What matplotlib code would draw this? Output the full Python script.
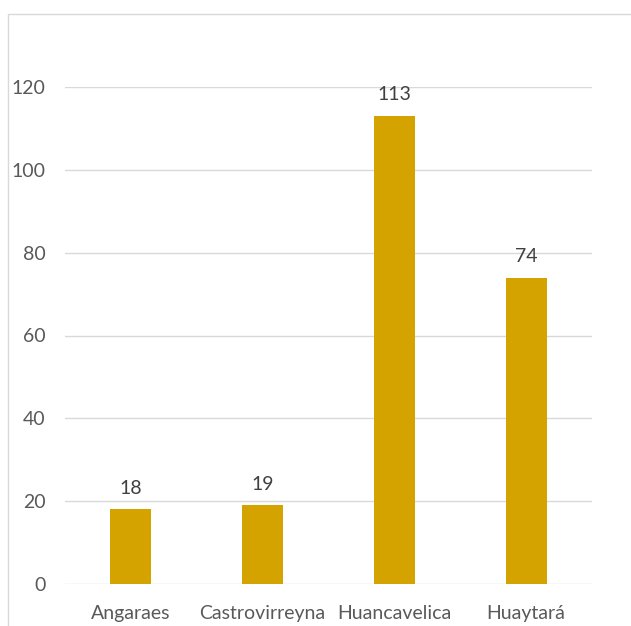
import matplotlib.pyplot as plt
from matplotlib.patches import Rectangle

# Data
provinces = ['Angaraes', 'Castrovirreyna', 'Huancavelica', 'Huaytará']
counts = [18, 19, 113, 74]
yticks = [0, 20, 40, 60, 80, 100, 120]

plt.rcParams['font.family'] = ['Lato', 'DejaVu Sans']

fig = plt.figure(figsize=(6.31, 6.26), dpi=100)
ax = fig.add_axes([65 / 631, 42 / 626, 527 / 631, 497 / 626])

# Gridlines behind bars
ax.set_axisbelow(True)
ax.yaxis.grid(True, color='#d9d9d9', linewidth=1)

x = range(len(provinces))
bars = ax.bar(x, counts, width=0.31, color='#D4A300')

# Value labels above bars
for rect, val in zip(bars, counts):
    ax.annotate(str(val), (rect.get_x() + rect.get_width() / 2, rect.get_height()),
                xytext=(0, 9), textcoords='offset points', ha='center', va='bottom',
                fontsize=14, color='#404040', annotation_clip=False)

ax.set_xlim(-0.5, 3.5)
ax.set_ylim(0, 120)
ax.set_yticks(yticks)
ax.set_xticks(list(x))
ax.set_xticklabels(provinces)
ax.tick_params(axis='both', length=0, labelsize=14, colors='#595959')
ax.tick_params(axis='y', pad=14)
ax.tick_params(axis='x', pad=15)
for s in ax.spines.values():
    s.set_visible(False)

# Outer chart border (cut off at right and bottom)
fig.patches.append(Rectangle((8 / 631, -0.05), 1.1, 612 / 626 + 0.05, transform=fig.transFigure,
                             fill=False, edgecolor='#d9d9d9', linewidth=1))

fig.savefig('out.png', dpi=100)
